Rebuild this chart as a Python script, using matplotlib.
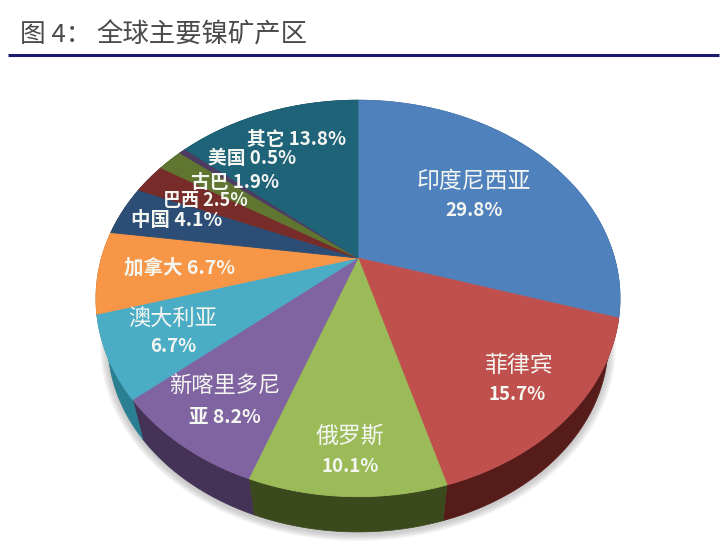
import numpy as np
import matplotlib.pyplot as plt

plt.rcParams['font.family'] = ['Noto Sans CJK SC', 'DejaVu Sans']

names = ['印度尼西亚', '菲律宾', '俄罗斯', '新喀里多尼亚', '澳大利亚', '加拿大',
         '中国', '巴西', '古巴', '美国', '其它']
shares = [29.8, 15.7, 10.1, 8.2, 6.7, 6.7, 4.1, 2.5, 1.9, 0.5, 13.8]
top_colors = ['#4F81BD', '#C0504D', '#9BBB59', '#8064A2', '#4BACC6', '#F79646',
              '#2C4D75', '#772C2A', '#5F7530', '#4D3B62', '#1F6378']
wall_colors = ['#2F4D71', '#561C1A', '#3B4A1D', '#443257', '#2A7F92', '#94591F',
               '#1A2E46', '#471A19', '#39461D', '#2E233B', '#123B48']

# label text, x, y, size, bold
label_layout = [
    ('印度尼西亚', 474, 181, 16.5, False), ('29.8%', 474, 211, 13.5, True),
    ('菲律宾', 518, 365, 16.5, False), ('15.7%', 517, 394, 13.5, True),
    ('俄罗斯', 350, 436, 16.5, False), ('10.1%', 350, 467, 13.5, True),
    ('新喀里多尼', 225, 386, 16, False), ('亚 8.2%', 225, 417, 14, True),
    ('澳大利亚', 173, 318, 16, False), ('6.7%', 173, 347, 13.5, True),
    ('加拿大 6.7%', 180, 268, 14, True),
    ('中国 4.1%', 177, 221, 14, True),
    ('巴西 2.5%', 205, 200, 13, True),
    ('古巴 1.9%', 235, 183, 13.5, True),
    ('美国 0.5%', 252, 158, 13.5, True),
    ('其它 13.8%', 297, 139, 13.5, True),
]

# perspective view of the pie disc, in image pixels
apex_x, apex_y = 358, 258
scale_x, scale_y, tilt = 256.5, 190.0, 0.204
wall_shrink, wall_drop = 0.955, 46


def rim(angle):
    u, v = np.sin(angle), np.cos(angle)
    d = 1 + tilt * v
    return apex_x + scale_x * u / d, apex_y - scale_y * v / d


def lower_rim(angle):
    x, y = rim(angle)
    return apex_x + wall_shrink * (x - apex_x), apex_y + wall_drop + wall_shrink * (y - apex_y)


fig = plt.figure(figsize=(7.2, 5.59), dpi=100)
ax = fig.add_axes([0, 0, 1, 1])
ax.set_xlim(0, 720)
ax.set_ylim(559, 0)
ax.axis('off')

edges = np.cumsum([0] + shares) / sum(shares) * 2 * np.pi

# soft shadow under the disc
full = np.linspace(0, 2 * np.pi, 300)
lx, ly = lower_rim(full)
for grow in [1.03, 1.024, 1.018, 1.012, 1.006]:
    ax.fill(apex_x + grow * (lx - apex_x), apex_y + 46 + grow * (ly - apex_y - 46) + 2,
            color='#808080', alpha=0.09, lw=0, zorder=1)

for i in range(len(shares)):
    t = np.linspace(edges[i], edges[i + 1], 80)
    x, y = rim(t)
    bx, by = lower_rim(t)
    ax.fill(np.r_[x, bx[::-1]], np.r_[y, by[::-1]], color=wall_colors[i], lw=0.5, zorder=2)

for i in range(len(shares)):
    t = np.linspace(edges[i], edges[i + 1], 80)
    x, y = rim(t)
    ax.fill(np.r_[apex_x, x], np.r_[apex_y, y], facecolor=top_colors[i],
            edgecolor=top_colors[i], lw=0.6, zorder=3)

for text, x, y, size, bold in label_layout:
    ax.text(x, y, text, color='#F4F6F2', fontsize=size, ha='center', va='center',
            fontweight='bold' if bold else 'normal', zorder=4)

ax.text(20, 35, '图 4：', color='#4A4A4A', fontsize=18.5, ha='left', va='center')
ax.text(96, 35, '全球主要镍矿产区', color='#4A4A4A', fontsize=19, ha='left', va='center')
ax.plot([8, 719], [54.5, 54.5], color='#1A1A6C', lw=2.2, solid_capstyle='butt')

fig.savefig('out.png', dpi=100)
